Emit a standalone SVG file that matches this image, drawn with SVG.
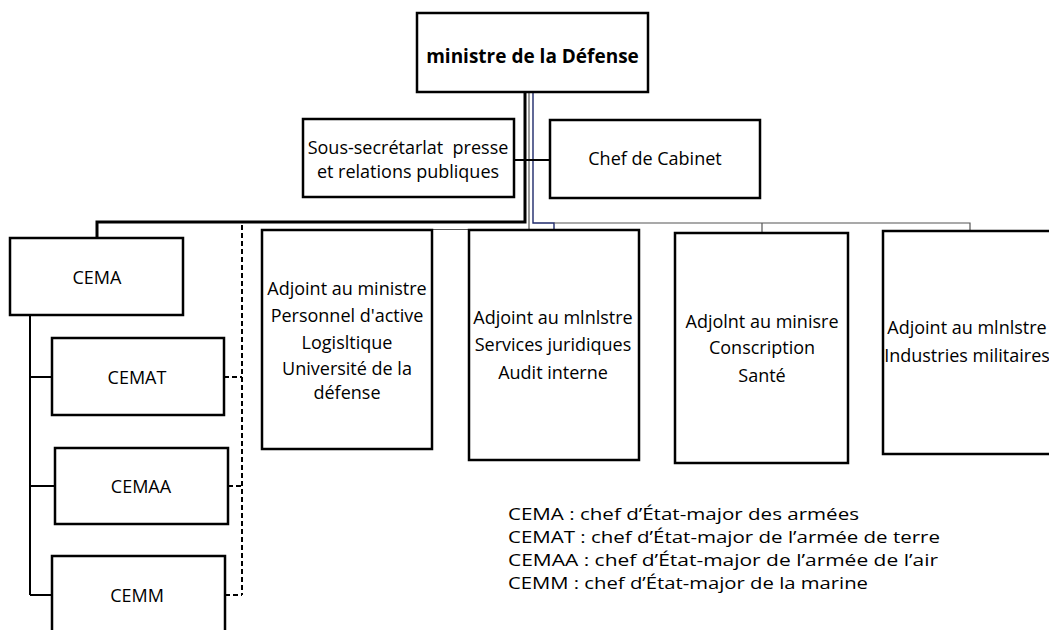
<svg xmlns="http://www.w3.org/2000/svg" width="1049" height="630" viewBox="0 0 1049 630">
<style>
.box{fill:#fff;stroke:#000;stroke-width:2.5}
.t{font-family:"Open Sans","Liberation Sans",sans-serif;font-size:18px;fill:#000;text-anchor:middle;dominant-baseline:central}
.b{font-weight:bold;font-size:19px}
.leg{font-family:"Open Sans","Liberation Sans",sans-serif;font-size:17px;fill:#000;dominant-baseline:central}
.thick{stroke:#000;stroke-width:3;fill:none}
.med{stroke:#000;stroke-width:2;fill:none}
.thin{stroke:#555;stroke-width:1.2;fill:none}
.blue{stroke:#1f2a6b;stroke-width:1.4;fill:none}
.dash{stroke:#000;stroke-width:2;fill:none;stroke-dasharray:5 3}
</style>
<rect width="1049" height="630" fill="#fff"/>
<g id="connectors">
  <path class="thick" d="M525 92 V222 H97 V238"/>
  <path class="thin" d="M529 92 V230"/>
  <path class="blue" d="M533 92 V223 H554 V231"/>
  <path class="thin" d="M554 223 H970 V231 M762 223 V233"/>
  <path class="thin" d="M262 229.5 H640"/>
  <path class="med" d="M514 160 H550"/>
  <path class="med" d="M30 315 V595 M30 377 H52 M30 486 H55 M30 595 H52"/>
  <path class="dash" d="M242 225 V595 M224 377 H242 M228 486 H242 M225 595 H242"/>
</g>
<g id="n-ministre">
  <rect class="box" x="417" y="13" width="231" height="79"/>
  <text class="t b" x="532.5" y="56">ministre de la Défense</text>
</g>
<g id="n-sous">
  <rect class="box" x="303" y="119" width="211" height="78"/>
  <text class="t" x="408" y="147">Sous-secrétarlat&#160; presse</text>
  <text class="t" x="408" y="171">et relations publiques</text>
</g>
<g id="n-chef">
  <rect class="box" x="550" y="120" width="210" height="78"/>
  <text class="t" x="655" y="158">Chef de Cabinet</text>
</g>
<g id="n-cema">
  <rect class="box" x="10" y="238" width="173" height="77"/>
  <text class="t" x="97" y="277">CEMA</text>
</g>
<g id="n-cemat">
  <rect class="box" x="52" y="338" width="172" height="77"/>
  <text class="t" x="137" y="377">CEMAT</text>
</g>
<g id="n-cemaa">
  <rect class="box" x="55" y="448" width="173" height="76"/>
  <text class="t" x="141" y="486">CEMAA</text>
</g>
<g id="n-cemm">
  <rect class="box" x="52" y="556" width="173" height="80"/>
  <text class="t" x="137" y="595">CEMM</text>
</g>
<g id="n-adj1">
  <rect class="box" x="262" y="230" width="170" height="219"/>
  <text class="t" x="347" y="288">Adjoint au ministre</text>
  <text class="t" x="347" y="315">Personnel d'active</text>
  <text class="t" x="347" y="342">Logisltique</text>
  <text class="t" x="347" y="368">Université de la</text>
  <text class="t" x="347" y="392">défense</text>
</g>
<g id="n-adj2">
  <rect class="box" x="469" y="230" width="170" height="230"/>
  <text class="t" x="553" y="317">Adjoint au mlnlstre</text>
  <text class="t" x="553" y="344">Services juridiques</text>
  <text class="t" x="553" y="372">Audit interne</text>
</g>
<g id="n-adj3">
  <rect class="box" x="675" y="233" width="173" height="230"/>
  <text class="t" x="762" y="321">Adjolnt au minisre</text>
  <text class="t" x="762" y="347">Conscription</text>
  <text class="t" x="762" y="375">Santé</text>
</g>
<g id="n-adj4">
  <rect class="box" x="883" y="231" width="180" height="223"/>
  <text class="t" x="967" y="327">Adjoint au mlnlstre</text>
  <text class="t" x="967" y="355">Industries militaires</text>
</g>
<g id="legend">
  <text class="leg" x="508" y="513" textLength="351" lengthAdjust="spacingAndGlyphs">CEMA : chef d’État-major des armées</text>
  <text class="leg" x="508" y="536" textLength="432" lengthAdjust="spacingAndGlyphs">CEMAT : chef d’État-major de l’armée de terre</text>
  <text class="leg" x="508" y="559" textLength="430" lengthAdjust="spacingAndGlyphs">CEMAA : chef d’État-major de l’armée de l’air</text>
  <text class="leg" x="508" y="582" textLength="360" lengthAdjust="spacingAndGlyphs">CEMM : chef d’État-major de la marine</text>
</g>
</svg>
